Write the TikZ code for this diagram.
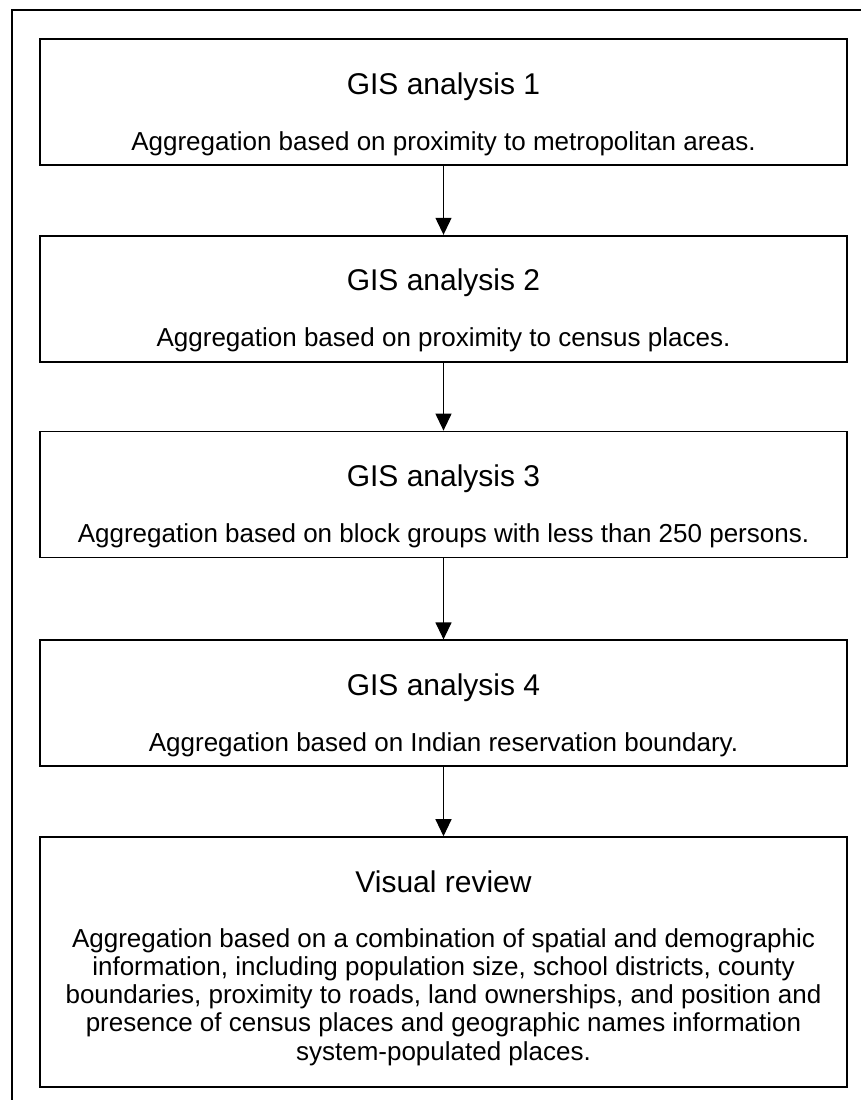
\documentclass[tikz,border=0pt]{standalone}
\usepackage{fontspec}
\setmainfont{Liberation Sans}
\usepackage{tikz}
\usetikzlibrary{arrows.meta, positioning}

\begin{document}
\begin{tikzpicture}[
    box/.style={rectangle, draw, line width=0.9pt, minimum width=403.5pt, minimum height=63pt, inner sep=0pt},
    heading/.style={font=\fontsize{15}{18}\selectfont, anchor=base, inner sep=0pt},
    body/.style={font=\fontsize{13}{14.1}\selectfont, align=center, anchor=base, inner sep=0pt},
    arrow/.style={-{Triangle[width=8pt,length=8.5pt]}, line width=0.6pt}
]
\useasboundingbox (0,0) rectangle (430.5pt,-550pt);

% outer frame
\draw[line width=1.2pt] (6pt,-550pt) -- (6pt,-5pt) -- (430.5pt,-5pt);

\node[box, anchor=north] (gis1) at (221.75pt,-19pt) {};
\node[box, below=34.5pt of gis1] (gis2) {};
\node[box, below=34pt of gis2] (gis3) {};
\node[box, below=40.5pt of gis3] (gis4) {};
\node[box, minimum height=125pt, below=34.5pt of gis4] (review) {};

\node[heading] (gis1h) at ([yshift=-28pt]gis1.north) {GIS analysis 1};
\node[body] (gis1t) at ([yshift=-56pt]gis1.north) {Aggregation based on proximity to metropolitan areas.};
\node[heading] (gis2h) at ([yshift=-28pt]gis2.north) {GIS analysis 2};
\node[body] (gis2t) at ([yshift=-56pt]gis2.north) {Aggregation based on proximity to census places.};
\node[heading] (gis3h) at ([yshift=-28pt]gis3.north) {GIS analysis 3};
\node[body] (gis3t) at ([yshift=-56pt]gis3.north) {Aggregation based on block groups with less than 250 persons.};
\node[heading] (gis4h) at ([yshift=-28pt]gis4.north) {GIS analysis 4};
\node[body] (gis4t) at ([yshift=-56pt]gis4.north) {Aggregation based on Indian reservation boundary.};
\node[heading] (reviewh) at ([yshift=-28pt]review.north) {Visual review};
% base of a multi-line node sits on its last line
\node[body] (reviewt) at ([yshift=-111.9pt]review.north) {Aggregation based on a combination of spatial and demographic\\
    information, including population size, school districts, county\\
    boundaries, proximity to roads, land ownerships, and position and\\
    presence of census places and geographic names information\\
    system-populated places.};

\draw[arrow] (gis1) -- (gis2);
\draw[arrow] (gis2) -- (gis3);
\draw[arrow] (gis3) -- (gis4);
\draw[arrow] (gis4) -- (review);

\end{tikzpicture}
\end{document}
